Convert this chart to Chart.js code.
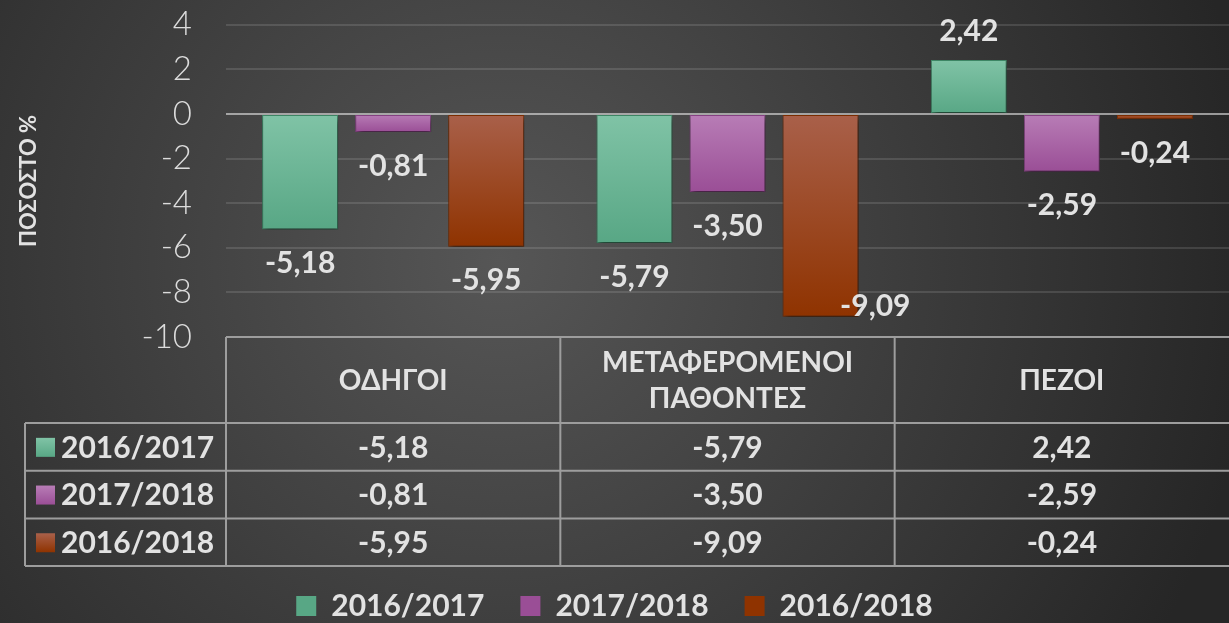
<!DOCTYPE html>
<html>
<head>
<meta charset="utf-8">
<script src="https://cdn.jsdelivr.net/npm/chart.js@4/dist/chart.umd.min.js"></script>
<style>
  html, body { margin: 0; padding: 0; background: #2b2b2b; }
  #wrap { width: 1229px; height: 623px; }
</style>
</head>
<body>
<div id="wrap"><canvas id="myChart" width="1229" height="623"></canvas></div>
<script>
// data
const categories = [["ΟΔΗΓΟΙ"], ["ΜΕΤΑΦΕΡΟΜΕΝΟΙ", "ΠΑΘΟΝΤΕΣ"], ["ΠΕΖΟΙ"]];
const seriesNames = ["2016/2017", "2017/2018", "2016/2018"];
const s20162017 = [-5.18, -5.79, 2.42];
const s20172018 = [-0.81, -3.50, -2.59];
const s20162018 = [-5.95, -9.09, -0.24];
const yTicks = [4, 2, 0, -2, -4, -6, -8, -10];

// colours: [top, bottom, border]
const palette = [
  ["#80c3a6", "#58a785", "#3f8a68"],
  ["#b87db6", "#9a4e96", "#8a4487"],
  ["#a9604a", "#8f3300", "#7f2e00"]
];

const FONT = "Lato, 'Open Sans', sans-serif";
const TXT = "#e2e2e2";

function fmt(v) {
  return v.toFixed(2).replace('.', ',');
}

function barFill(i) {
  return function(ctx) {
    const chart = ctx.chart;
    const y = chart.scales.y;
    if (!y || ctx.raw === undefined) return palette[i][1];
    const a = y.getPixelForValue(0), b = y.getPixelForValue(ctx.raw);
    const top = Math.min(a, b), bot = Math.max(a, b);
    if (bot - top < 1) return palette[i][1];
    const g = chart.ctx.createLinearGradient(0, top, 0, bot);
    g.addColorStop(0, palette[i][0]);
    g.addColorStop(1, palette[i][1]);
    return g;
  };
}

const bgPlugin = {
  id: 'bg',
  beforeDraw(chart) {
    const c = chart.ctx;
    const g = c.createRadialGradient(500, 260, 0, 500, 260, 760);
    g.addColorStop(0, '#565656');
    g.addColorStop(1, '#262626');
    c.save();
    c.fillStyle = g;
    c.fillRect(0, 0, chart.width, chart.height);
    c.restore();
  }
};

const shadowPlugin = {
  id: 'shadow',
  beforeDatasetsDraw(chart) {
    const c = chart.ctx;
    c.save();
    c.shadowColor = 'rgba(0,0,0,0.55)';
    c.shadowBlur = 6;
    c.shadowOffsetX = 2;
    c.shadowOffsetY = 4;
  },
  afterDatasetsDraw(chart) {
    chart.ctx.restore();
  }
};

// value labels on bars
const labelPlugin = {
  id: 'barLabels',
  afterDatasetsDraw(chart) {
    const c = chart.ctx;
    const area = chart.chartArea;
    c.save();
    c.font = "bold 30px " + FONT;
    c.fillStyle = TXT;
    c.textAlign = 'center';
    c.textBaseline = 'middle';
    chart.data.datasets.forEach((ds, di) => {
      chart.getDatasetMeta(di).data.forEach((el, i) => {
        const v = ds.data[i];
        let x = el.x;
        let y = v < 0 ? el.y + 34 : el.y - 29;
        if (y + 14 > area.bottom) {
          y = area.bottom - 31;
          x = el.x + el.width * 0.72;
        }
        c.fillText(fmt(v), x, y);
      });
    });
    c.restore();
  }
};

// data table under the plot
const tablePlugin = {
  id: 'dataTable',
  afterDraw(chart) {
    const c = chart.ctx;
    const x = chart.scales.x;
    const area = chart.chartArea;
    const top = area.bottom;
    const headBot = top + 86;
    const rowH = 47.7;
    const left = 25;
    const right = chart.width;
    c.save();
    c.strokeStyle = '#9d9d9d';
    c.lineWidth = 2;
    c.beginPath();
    c.moveTo(area.left, top); c.lineTo(right, top);
    for (let r = 0; r <= 3; r++) {
      const yy = headBot + r * rowH;
      c.moveTo(left, yy); c.lineTo(right, yy);
    }
    c.moveTo(left, headBot); c.lineTo(left, headBot + 3 * rowH);
    for (let k = 0; k < categories.length; k++) {
      const bx = x.getPixelForValue(k) - (x.getPixelForValue(1) - x.getPixelForValue(0)) / 2;
      c.moveTo(bx, top); c.lineTo(bx, headBot + 3 * rowH);
    }
    c.stroke();

    const rows = [s20162017, s20172018, s20162018];
    c.textBaseline = 'middle';
    rows.forEach((vals, r) => {
      const cy = headBot + r * rowH + rowH / 2;
      const g = c.createLinearGradient(0, cy - 9, 0, cy + 10);
      g.addColorStop(0, palette[r][0]);
      g.addColorStop(1, palette[r][1]);
      c.fillStyle = g;
      c.fillRect(36, cy - 9, 19, 19);
      c.fillStyle = TXT;
      c.font = "bold 30px " + FONT;
      c.textAlign = 'left';
      c.fillText(seriesNames[r], 61, cy + 1);
      c.textAlign = 'center';
      vals.forEach((v, i) => {
        c.fillText(fmt(v), x.getPixelForValue(i), cy + 1);
      });
    });
    c.restore();
  }
};

const allSeries = [s20162017, s20172018, s20162018];
const datasets = seriesNames.map((name, i) => ({
  label: name,
  data: allSeries[i],
  backgroundColor: barFill(i),
  borderColor: palette[i][2],
  borderWidth: 1,
  borderSkipped: false
}));

const config = {
  type: 'bar',
  data: { labels: categories, datasets: datasets },
  options: {
    responsive: false,
    animation: false,
    devicePixelRatio: 1,
    categoryPercentage: 0.835,
    barPercentage: 0.817,
    layout: { padding: { top: 0, left: 0, right: 0, bottom: -8 } },
    plugins: {
      legend: {
        position: 'bottom',
        labels: {
          color: TXT,
          font: { family: FONT, size: 30, weight: 'bold' },
          boxWidth: 20,
          boxHeight: 20,
          padding: 36,
          generateLabels(chart) {
            return seriesNames.map((n, i) => ({
              text: n,
              fillStyle: palette[i][1],
              strokeStyle: palette[i][1],
              lineWidth: 0,
              fontColor: TXT,
              datasetIndex: i
            }));
          }
        }
      },
      tooltip: { enabled: false }
    },
    scales: {
      x: {
        grid: { display: false, drawTicks: false },
        border: { display: false },
        ticks: {
          color: TXT,
          font: { family: FONT, size: 28, weight: 'bold', lineHeight: 1.29 },
          padding: 26,
          crossAlign: 'center',
          autoSkip: false,
          maxRotation: 0,
          minRotation: 0
        },
        afterFit(scale) { scale.height = 218; }
      },
      y: {
        min: -10,
        max: 4,
        afterBuildTicks(scale) {
          scale.ticks = yTicks.map(v => ({ value: v }));
        },
        grid: {
          drawTicks: true,
          tickLength: 29,
          tickColor: 'rgba(0,0,0,0)',
          color: ctx => ctx.tick && ctx.tick.value === 0 ? 'rgba(230,230,230,0.6)' : 'rgba(255,255,255,0.12)',
          lineWidth: 2
        },
        border: { display: false },
        ticks: {
          color: '#dcdcdc',
          font: { family: FONT, size: 33, weight: '300' },
          padding: 5,
          autoSkip: false
        },
        title: {
          display: true,
          text: 'ΠΟΣΟΣΤΟ %',
          color: TXT,
          font: { family: FONT, size: 22, weight: 'bold' },
          padding: { top: 16, bottom: 0 }
        },
        afterFit(scale) { scale.width = 226; }
      }
    }
  },
  plugins: [bgPlugin, shadowPlugin, labelPlugin, tablePlugin]
};

const context = document.getElementById("myChart");
let myChart = new Chart(context, config);
</script>
</body>
</html>
